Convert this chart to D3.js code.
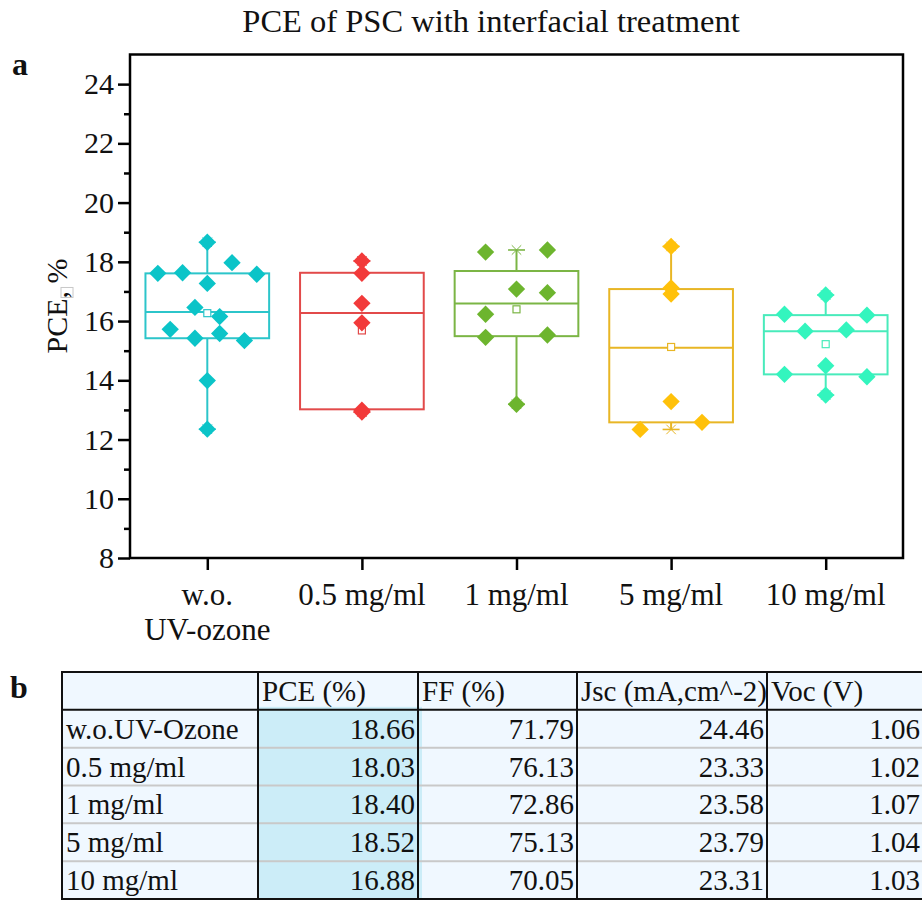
<!DOCTYPE html>
<html><head><meta charset="utf-8">
<script src="https://cdn.jsdelivr.net/npm/d3@7"></script>
<style>
body{margin:0;background:#fff}
svg{display:block}
text{font-family:"Liberation Serif","Times New Roman",serif;fill:#111}
</style>
</head><body>
<svg id="chart" width="922" height="900"></svg>
<script>
// ---------- data ----------
const title = "PCE of PSC with interfacial treatment";
const categories = ["w.o.|UV-ozone", "0.5 mg/ml", "1 mg/ml", "5 mg/ml", "10 mg/ml"];
const yTicks = [8, 10, 12, 14, 16, 18, 20, 22, 24];
const yMinor = [9, 11, 13, 15, 17, 19, 21, 23];

const pceWO   = [18.66, 17.97, 17.63, 17.61, 17.58, 17.27, 16.46, 16.15, 15.72, 15.58, 15.42, 15.34, 13.99, 12.35];
const pce05   = [18.03, 17.61, 16.60, 15.94, 12.99, 12.93];
const pce1    = [18.33, 18.40, 17.08, 16.96, 16.23, 15.45, 15.53, 13.19];
const pce5    = [18.52, 17.12, 16.91, 13.28, 12.34, 12.58];
const pce10   = [16.88, 16.23, 16.20, 15.66, 15.70, 14.49, 14.20, 14.12, 13.50];
// side-by-side spread of each point, as a fraction of the box width
const spreadWO = [0, 0.2, -0.2, -0.4, 0.4, 0, -0.1, 0.1, -0.3, 0.1, -0.1, 0.3, 0, 0];
const spread05 = [0, 0, 0, 0, 0, 0];
const spread1  = [-0.25, 0.25, 0, 0.25, -0.25, -0.25, 0.25, 0];
const spread5  = [0, 0, 0, 0, -0.25, 0.25];
const spread10 = [0, -1/3, 1/3, -1/6, 1/6, 0, -1/3, 1/3, 0];

const q1 = [15.42, 13.02, 15.49, 12.58, 14.20];
const q3 = [17.61, 17.63, 17.69, 17.08, 16.20];

const fillColors = ["#0BC4C8", "#F23A3A", "#6DB52E", "#FFC10A", "#33F5BE"];
const lineColors = ["#2CC5CA", "#E24A4A", "#7BB545", "#E8B625", "#48EBBB"];

// table
const rowLabels = ["w.o.UV-Ozone", "0.5 mg/ml", "1 mg/ml", "5 mg/ml", "10 mg/ml"];
const colHeaders = ["PCE (%)", "FF (%)", "Jsc (mA,cm^-2)", "Voc (V)"];
const bestPCE = ["18.66", "18.03", "18.40", "18.52", "16.88"];
const bestFF  = ["71.79", "76.13", "72.86", "75.13", "70.05"];
const bestJsc = ["24.46", "23.33", "23.58", "23.79", "23.31"];
const bestVoc = ["1.06", "1.02", "1.07", "1.04", "1.03"];

// ---------- chart ----------
const svg = d3.select("#chart");
const groups = [pceWO, pce05, pce1, pce5, pce10];
const spreads = [spreadWO, spread05, spread1, spread5, spread10];

const pL = 130, pR = 903, pT = 54.5, pB = 558;
const x = d3.scalePoint().domain(categories).range([pL, pR]).padding(0.5);
const boxW = x.step() * 0.8;
const y = d3.scaleLinear().domain([8, 25]).range([pB, pT]);

svg.append("text").attr("x", 491).attr("y", 32).attr("text-anchor", "middle")
  .style("font-size", "32.5px").text(title);
svg.append("text").attr("x", 12).attr("y", 75).style("font-size", "32px")
  .style("font-weight", "bold").text("a");
svg.append("text").attr("x", 10).attr("y", 698).style("font-size", "32px")
  .style("font-weight", "bold").text("b");

// y label
const yl = svg.append("g").attr("transform", "translate(67,306) rotate(-90)");
const ylt = yl.append("text").attr("text-anchor", "middle").style("font-size", "30px").text("PCE, %");
const tot = ylt.node().getComputedTextLength();
const tmp = yl.append("text").style("font-size", "30px").text("PCE");
const pw = tmp.node().getComputedTextLength();
tmp.remove();
yl.append("rect").attr("x", -tot / 2 + pw + 1).attr("y", -6).attr("width", 10).attr("height", 12)
  .attr("fill", "none").attr("stroke", "#c8c8c8").attr("stroke-width", 1);

// boxes
groups.forEach((vals, i) => {
  const cx = x(categories[i]);
  const g = svg.append("g");
  const [mn, mx] = d3.extent(vals);
  const med = d3.median(vals), mu = d3.mean(vals);
  const lc = lineColors[i];
  g.append("line").attr("x1", cx).attr("x2", cx).attr("y1", y(q3[i])).attr("y2", y(mx))
    .attr("stroke", lc).attr("stroke-width", 2);
  g.append("line").attr("x1", cx).attr("x2", cx).attr("y1", y(q1[i])).attr("y2", y(mn))
    .attr("stroke", lc).attr("stroke-width", 2);
  [mn, mx].forEach(v => {
    g.append("line").attr("x1", cx - 8.5).attr("x2", cx + 8.5).attr("y1", y(v)).attr("y2", y(v))
      .attr("stroke", lc).attr("stroke-width", 1.6);
    g.append("path").attr("d", d3.symbol(d3.symbolX, 60)())
      .attr("transform", `translate(${cx},${y(v)})`).attr("fill", "none")
      .attr("stroke", lc).attr("stroke-width", 1);
  });
  g.append("rect").attr("x", cx - boxW / 2).attr("y", y(q3[i])).attr("width", boxW)
    .attr("height", y(q1[i]) - y(q3[i])).attr("fill", "none").attr("stroke", lc).attr("stroke-width", 2);
  g.append("line").attr("x1", cx - boxW / 2).attr("x2", cx + boxW / 2).attr("y1", y(med)).attr("y2", y(med))
    .attr("stroke", lc).attr("stroke-width", 2);
  g.append("rect").attr("x", cx - 3.5).attr("y", y(mu) - 3.5).attr("width", 7).attr("height", 7)
    .attr("fill", "#fff").attr("stroke", lc).attr("stroke-width", 1.2);
  g.selectAll("path.pt").data(vals).join("path").attr("class", "pt")
    .attr("d", d3.symbol(d3.symbolSquare, 150)())
    .attr("transform", (d, j) => `translate(${cx + spreads[i][j] * boxW},${y(d)}) rotate(45)`)
    .attr("fill", fillColors[i]);
});

// axes
const yAxis = d3.axisLeft(y).tickValues(yTicks).tickSize(12).tickPadding(4).tickFormat(d3.format("d"));
const ga = svg.append("g").attr("transform", `translate(${pL},0)`).call(yAxis);
ga.select(".domain").remove();
ga.selectAll("line").attr("stroke", "#000").attr("stroke-width", 2.5);
ga.selectAll("text").style("font-size", "30px").attr("fill", "#111").attr("font-family", null);
const ym = svg.append("g").attr("transform", `translate(${pL},0)`)
  .call(d3.axisLeft(y).tickValues(yMinor).tickSize(6).tickFormat(""));
ym.select(".domain").remove();
ym.selectAll("line").attr("stroke", "#000").attr("stroke-width", 2.5);

const xAxis = d3.axisBottom(x).tickSize(12).tickFormat("");
const gx = svg.append("g").attr("transform", `translate(0,${pB})`).call(xAxis);
gx.select(".domain").remove();
gx.selectAll("line").attr("stroke", "#000").attr("stroke-width", 2.5);
categories.forEach(c => {
  const lines = c.split("|");
  const t = svg.append("text").attr("x", x(c)).attr("y", 605).attr("text-anchor", "middle")
    .style("font-size", "31px");
  lines.forEach((l, k) => t.append("tspan").attr("x", x(c)).attr("dy", k ? 35 : 0).text(l));
});

svg.append("rect").attr("x", pL).attr("y", pT).attr("width", pR - pL).attr("height", pB - pT)
  .attr("fill", "none").attr("stroke", "#000").attr("stroke-width", 2.5);

// ---------- table ----------
const colEdges = [62, 258, 418, 577, 767, 930];
const rowsY = d3.scaleBand().domain(["head", ...rowLabels]).range([672, 899]);
const tb = svg.append("g");
tb.append("rect").attr("x", colEdges[0]).attr("y", 672).attr("width", colEdges[5] - colEdges[0])
  .attr("height", 899 - 672).attr("fill", "#F0F8FF");
tb.append("rect").attr("x", colEdges[1] + 1).attr("y", rowsY(rowLabels[0]) - 3)
  .attr("width", colEdges[2] - colEdges[1] + 3).attr("height", 899 - rowsY(rowLabels[0]) + 3)
  .attr("fill", "#CCEDF8");
rowLabels.slice(1).forEach(r => {
  tb.append("line").attr("x1", colEdges[0]).attr("x2", colEdges[5]).attr("y1", rowsY(r)).attr("y2", rowsY(r))
    .attr("stroke", "#c9c9c9").attr("stroke-width", 2);
});
tb.append("line").attr("x1", colEdges[0]).attr("x2", colEdges[5]).attr("y1", rowsY(rowLabels[0]))
  .attr("y2", rowsY(rowLabels[0])).attr("stroke", "#111").attr("stroke-width", 2);
colEdges.slice(1, 5).forEach(cx => {
  tb.append("line").attr("x1", cx).attr("x2", cx).attr("y1", 672).attr("y2", 899)
    .attr("stroke", "#111").attr("stroke-width", 2);
});
tb.append("rect").attr("x", colEdges[0]).attr("y", 672).attr("width", colEdges[5] - colEdges[0])
  .attr("height", 899 - 672).attr("fill", "none").attr("stroke", "#111").attr("stroke-width", 2);

const bh = rowsY.bandwidth();
colHeaders.forEach((h, k) => {
  tb.append("text").attr("x", colEdges[k + 1] + 4).attr("y", rowsY("head") + bh / 2 + 10)
    .style("font-size", "29px").text(h);
});
const cols = [bestPCE, bestFF, bestJsc, bestVoc];
rowLabels.forEach((r, ri) => {
  tb.append("text").attr("x", colEdges[0] + 4).attr("y", rowsY(r) + bh / 2 + 10)
    .style("font-size", "29px").text(r);
  cols.forEach((col, k) => {
    const rx = k === 3 ? 920 : colEdges[k + 2] - 3;
    tb.append("text").attr("x", rx).attr("y", rowsY(r) + bh / 2 + 10).attr("text-anchor", "end")
      .style("font-size", "29px").text(col[ri]);
  });
});
</script>
</body></html>
